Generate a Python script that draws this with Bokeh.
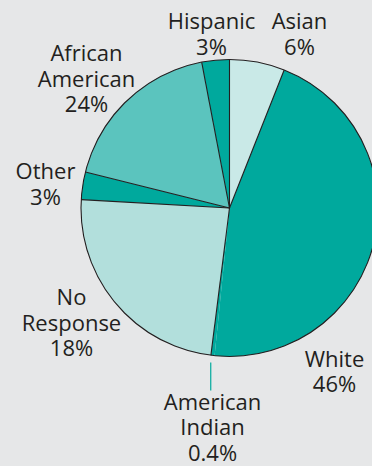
import numpy as np
from bokeh.plotting import figure
from bokeh.models import Range1d, ColumnDataSource
from bokeh.core.properties import value
from bokeh.embed import file_html
from bokeh.resources import INLINE

# ---- data (clockwise from 12 o'clock) ----
categories = ["Asian", "White", "American Indian", "No Response", "Other", "African American", "Hispanic"]
shares = [6.0, 45.6, 0.4, 23.9, 3.0, 18.1, 3.0]          # slice sizes as drawn
label_lines = [["Asian", "6%"], ["White", "46%"], ["American", "Indian", "0.4%"],
               ["No", "Response", "18%"], ["Other", "3%"], ["African", "American", "24%"],
               ["Hispanic", "3%"]]
colors = ["#c9e9e7", "#00a99d", "#00a99d", "#b2dfdc", "#00a99d", "#5bc4be", "#00a99d"]

# ---- layout (screen px) ----
W, H = 372, 466
BG = "#e6e7e8"
DARK = "#231f20"
CX, CY_S, R = 229.0, 207.5, 148.5
label_x = [299, 334, 212, 71, 45, 86, 211]
label_first_baseline = [28.5, 366, 409, 304.5, 178.5, 60.5, 28.5]
BASE_SHIFT = -9
LINE_STEP = 25.5
FONT = "Open Sans"
FSIZE = "22px"

def yup(ys):
    return H - ys

CY = yup(CY_S)

p = figure(width=W, height=H, x_range=Range1d(0, W), y_range=Range1d(0, H),
           output_backend="svg", toolbar_location=None, min_border=0)
p.axis.visible = False
p.grid.visible = False
p.outline_line_color = None
p.background_fill_color = BG
p.border_fill_color = BG

vals = np.array(shares, dtype=float)
frac = vals / vals.sum()
cum_end = np.cumsum(frac)
cum_start = cum_end - frac
start_ang = np.pi / 2 - 2 * np.pi * cum_end
end_ang = np.pi / 2 - 2 * np.pi * cum_start

src = ColumnDataSource(dict(cat=categories, start=start_ang, end=end_ang, color=colors))
p.wedge(x=CX, y=CY, radius=R, start_angle="start", end_angle="end",
        fill_color="color", line_color=None, source=src)

# slice separators (the tiny American Indian sliver shows a single edge)
ai = categories.index("American Indian")
bx, by = [], []
for i in range(len(categories)):
    if i == ai:
        continue
    th = np.pi / 2 - 2 * np.pi * cum_start[i]
    bx.append(CX + R * np.cos(th))
    by.append(CY + R * np.sin(th))
p.segment(x0=[CX] * len(bx), y0=[CY] * len(by), x1=bx, y1=by, line_color=DARK, line_width=1.1)
p.circle(x=CX, y=CY, radius=R, fill_color=None, line_color=DARK, line_width=1.1)

# leader line for American Indian
mid = np.pi / 2 - 2 * np.pi * (cum_start[ai] + frac[ai] / 2)
lx = CX + R * np.cos(mid) - 2
ly_top = CY + R * np.sin(mid) - 7
p.segment(x0=[lx], y0=[ly_top], x1=[lx], y1=[ly_top - 28], line_color="#00a99d", line_width=1.2)

# labels
tx, ty, tt = [], [], []
for i, lines in enumerate(label_lines):
    for k, t in enumerate(lines):
        tx.append(label_x[i])
        ty.append(yup(label_first_baseline[i] + BASE_SHIFT + k * LINE_STEP))
        tt.append(t)
p.text(x=tx, y=ty, text=tt, text_align="center", text_baseline="alphabetic",
       text_font=value(FONT), text_font_size=FSIZE, text_color=DARK)

html = file_html(p, INLINE, title="Pie chart")
html = html.replace("</head>", "<style>html,body{margin:0;padding:0;background:%s;overflow:hidden}</style></head>" % BG, 1)
open("out.html", "w").write(html)
